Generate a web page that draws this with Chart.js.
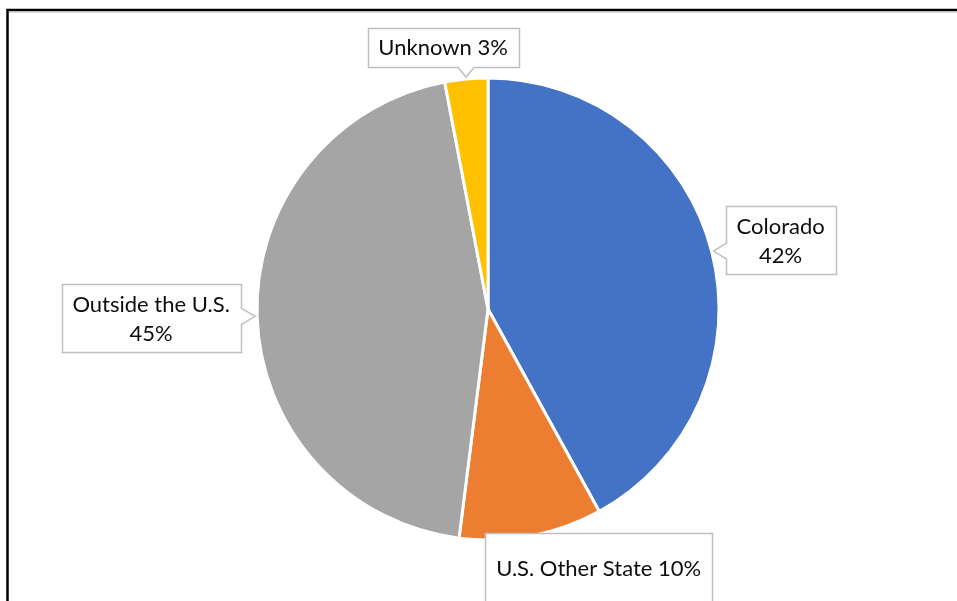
<!DOCTYPE html>
<html>
<head>
<meta charset="utf-8">
<script src="https://cdn.jsdelivr.net/npm/chart.js@4/dist/chart.umd.min.js"></script>
<style>
  html, body { margin: 0; padding: 0; background: #fff; }
  #wrap { width: 957px; height: 601px; position: relative; }
</style>
</head>
<body>
<div id="wrap"><canvas id="pieChart" width="957" height="601"></canvas></div>
<script>
const categories = ["Colorado", "U.S. Other State", "Outside the U.S.", "Unknown"];
const shares = [42, 10, 45, 3];
const sliceColors = ["#4472C4", "#ED7D31", "#A5A5A5", "#FFC000"];

// callout text lines, "{v}" is replaced with the slice value
const calloutLines = [
  ["Colorado", "{v}%"],
  ["U.S. Other State {v}%"],
  ["Outside the U.S.", "{v}%"],
  ["Unknown {v}%"],
];
// box centre offset from the slice's outer midpoint, optional min height
const calloutPlacement = [
  { dx: 67, dy: -11 },
  { dx: 67, dy: 30, h: 70 },
  { dx: -104, dy: 2 },
  { dx: -23, dy: -30 },
];

const FONT = "22px Lato";
const LINE_H = 29;

const frame = {
  id: "frame",
  beforeDraw(chart) {
    const { ctx, width, height } = chart;
    ctx.save();
    ctx.fillStyle = "#fff";
    ctx.fillRect(0, 0, width, height);
    ctx.strokeStyle = "#d9d9d9";
    ctx.lineWidth = 1;
    ctx.beginPath();
    ctx.moveTo(9, 12.5);
    ctx.lineTo(width, 12.5);
    ctx.stroke();
    ctx.strokeStyle = "#000";
    ctx.lineWidth = 2.5;
    ctx.beginPath();
    ctx.moveTo(7.5, height);
    ctx.lineTo(7.5, 10);
    ctx.lineTo(width, 10);
    ctx.stroke();
    ctx.restore();
  },
};

function calloutPath(ctx, x0, y0, x1, y1, tx, ty) {
  const half = 8;
  const clamp = (v, a, b) => Math.max(a, Math.min(b, v));
  let side = null;
  if (ty > y1) side = "bottom";
  else if (ty < y0) side = "top";
  else if (tx < x0) side = "left";
  else if (tx > x1) side = "right";
  ctx.beginPath();
  ctx.moveTo(x0, y0);
  if (side === "top") {
    const c = clamp(tx, x0 + half + 4, x1 - half - 4);
    ctx.lineTo(c - half, y0); ctx.lineTo(tx, ty); ctx.lineTo(c + half, y0);
  }
  ctx.lineTo(x1, y0);
  if (side === "right") {
    const c = clamp(ty, y0 + half + 4, y1 - half - 4);
    ctx.lineTo(x1, c - half); ctx.lineTo(tx, ty); ctx.lineTo(x1, c + half);
  }
  ctx.lineTo(x1, y1);
  if (side === "bottom") {
    const c = clamp(tx, x0 + half + 4, x1 - half - 4);
    ctx.lineTo(c + half, y1); ctx.lineTo(tx, ty); ctx.lineTo(c - half, y1);
  }
  ctx.lineTo(x0, y1);
  if (side === "left") {
    const c = clamp(ty, y0 + half + 4, y1 - half - 4);
    ctx.lineTo(x0, c + half); ctx.lineTo(tx, ty); ctx.lineTo(x0, c - half);
  }
  ctx.closePath();
}

const callouts = {
  id: "callouts",
  afterDatasetsDraw(chart) {
    const { ctx } = chart;
    const meta = chart.getDatasetMeta(0);
    ctx.save();
    ctx.font = FONT;
    meta.data.forEach((arc, i) => {
      const { x, y, startAngle, endAngle, outerRadius } = arc.getProps(
        ["x", "y", "startAngle", "endAngle", "outerRadius"], true);
      const mid = (startAngle + endAngle) / 2;
      const ax = x + Math.cos(mid) * (outerRadius + 2);
      const ay = y + Math.sin(mid) * (outerRadius + 2);
      const lines = calloutLines[i].map((s) => s.replace("{v}", shares[i]));
      const p = calloutPlacement[i];
      const textW = Math.max(...lines.map((l) => ctx.measureText(l).width));
      const w = Math.round(textW + 22);
      const h = Math.max(p.h || 0, lines.length * LINE_H + 10);
      const cx = ax + p.dx, cy = ay + p.dy;
      const x0 = Math.round(cx - w / 2) + 0.5, y0 = Math.round(cy - h / 2) + 0.5;
      calloutPath(ctx, x0, y0, x0 + w, y0 + h, ax, ay);
      ctx.fillStyle = "#fff";
      ctx.fill();
      ctx.strokeStyle = "#bfbfbf";
      ctx.lineWidth = 1.5;
      ctx.stroke();
      ctx.fillStyle = "#0d0d0d";
      ctx.textAlign = "center";
      ctx.textBaseline = "middle";
      lines.forEach((l, k) => {
        ctx.fillText(l, cx, cy + (k - (lines.length - 1) / 2) * LINE_H + 1);
      });
    });
    ctx.restore();
  },
};

new Chart(document.getElementById("pieChart").getContext("2d"), {
  type: "pie",
  data: {
    labels: categories,
    datasets: [
      {
        data: shares,
        backgroundColor: sliceColors,
        borderColor: "#fff",
        borderWidth: 3,
        hoverOffset: 0,
      },
    ],
  },
  options: {
    responsive: false,
    animation: false,
    radius: 231,
    layout: { padding: { left: 19, right: 0, top: 17, bottom: 0 } },
    plugins: {
      legend: { display: false },
      tooltip: { enabled: false },
    },
  },
  plugins: [frame, callouts],
});
</script>
</body>
</html>
